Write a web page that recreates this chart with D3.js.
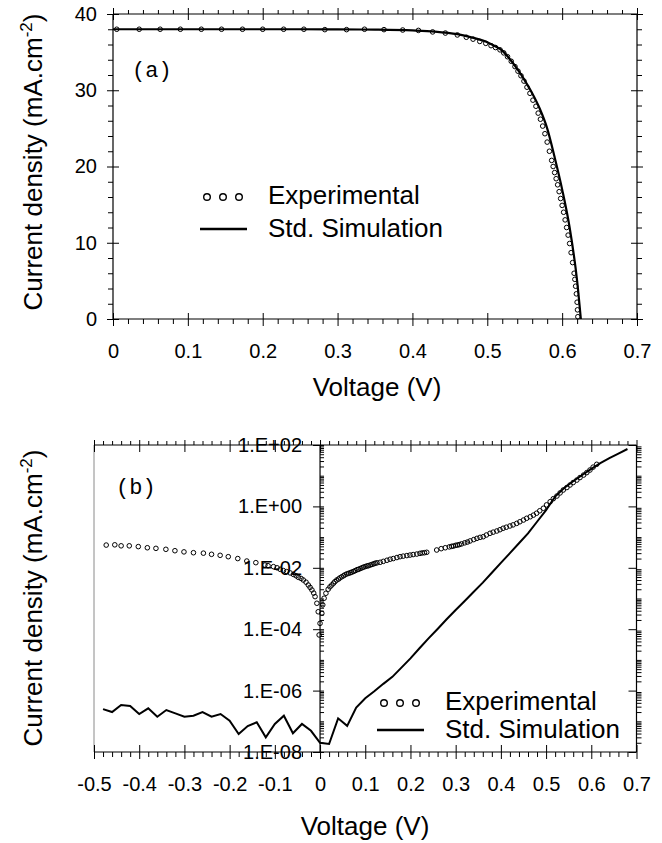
<!DOCTYPE html>
<html><head><meta charset="utf-8">
<script src="https://cdn.jsdelivr.net/npm/d3@7/dist/d3.min.js"></script>
<style>
body{margin:0;background:#fff}
text{fill:#000}
</style>
</head><body>
<svg id="chart" width="662" height="843"></svg>
<script>
// ---------- Panel (a): linear J-V ----------
const expA_V = [0.005,0.035,0.063,0.09,0.118,0.145,0.173,0.2,0.228,0.255,0.283,0.312,0.336,0.362,0.387,0.408,0.427,0.444,0.46,0.472,0.481,0.49,0.498,0.505,0.511,0.517,0.522,0.527,0.532,0.537,0.541,0.545,0.549,0.553,0.557,0.561,0.565,0.568,0.571,0.574,0.577,0.580,0.583,0.586,0.588,0.590,0.592,0.594,0.596,0.598,0.600,0.602,0.604,0.606,0.608,0.610,0.612,0.614,0.616,0.617,0.618,0.619,0.620,0.6205,0.621];
const expA_J = [38.0,38.0,38.0,38.0,38.0,38.0,38.0,38.0,38.0,38.0,37.95,37.95,38.0,37.95,37.9,37.85,37.65,37.5,37.25,36.95,36.7,36.4,36.15,35.85,35.6,35.3,34.9,34.4,33.8,33.1,32.5,31.9,31.2,30.4,29.6,28.7,27.9,27.0,26.2,25.3,24.3,23.2,22.0,20.8,20.0,19.2,18.4,17.6,16.7,15.8,14.9,14.0,13.0,12.0,11.0,9.9,8.7,7.4,6.0,5.2,4.3,3.3,2.2,1.2,0.3];
const simA_V = [0,0.05,0.1,0.15,0.2,0.25,0.3,0.35,0.4,0.43,0.46,0.48,0.5,0.51,0.52,0.53,0.54,0.55,0.56,0.57,0.58,0.59,0.6,0.61,0.62,0.625];
const simA_J = [38,38,38,38,38,38,37.98,37.95,37.85,37.7,37.35,36.9,36.3,35.8,35.2,34.1,32.8,31.3,29.6,27.6,25.0,21.2,17.0,12.0,5.0,0];
const xTicksA = [0,0.1,0.2,0.3,0.4,0.5,0.6,0.7];
const yTicksA = [0,10,20,30,40];

// ---------- Panel (b): log |J|-V ----------
const expB_V = [-0.473,-0.454,-0.440,-0.422,-0.402,-0.382,-0.363,-0.341,-0.321,-0.301,-0.280,-0.258,-0.240,-0.221,-0.203,-0.182,-0.162,-0.142,-0.122,-0.115,-0.103,-0.095,-0.088,-0.081,-0.074,-0.066,-0.059,-0.053,-0.048,-0.042,-0.037,-0.031,-0.026,-0.022,-0.018,-0.014,-0.011,-0.007,-0.004,-0.002,0.000,
 0.004,0.006,0.009,0.013,0.018,0.022,0.026,0.030,0.033,0.037,0.041,0.044,0.048,0.052,0.055,0.059,0.063,0.067,0.070,0.074,0.078,0.082,0.085,0.089,0.093,0.096,0.100,0.104,0.107,0.111,0.115,0.119,0.122,0.126,0.133,0.140,0.148,0.155,0.162,0.170,0.177,0.184,0.192,0.199,0.206,0.214,0.221,0.226,0.231,0.236,
 0.258,0.268,0.277,0.286,0.291,0.295,0.300,0.304,0.308,0.313,0.320,0.326,0.332,0.340,0.347,0.354,0.361,0.368,0.376,0.383,0.391,0.398,0.405,0.412,0.420,0.427,0.435,0.442,0.450,0.457,0.465,0.472,0.479,0.486,0.494,0.501,0.509,0.516,0.524,0.531,0.538,0.546,0.553,0.560,0.568,0.575,0.583,0.590,0.597,0.604,0.612];
const expB_J = [5.5e-2,5.6e-2,5.2e-2,5.2e-2,4.9e-2,4.5e-2,4.3e-2,4.0e-2,3.6e-2,3.3e-2,3.1e-2,3.0e-2,2.75e-2,2.55e-2,2.3e-2,2.0e-2,1.66e-2,1.47e-2,1.23e-2,1.17e-2,1.09e-2,1.0e-2,8.9e-3,8.1e-3,7.5e-3,6.8e-3,6.1e-3,5.5e-3,4.9e-3,4.5e-3,4.0e-3,3.4e-3,2.75e-3,2.3e-3,1.9e-3,1.5e-3,1.15e-3,7.0e-4,3.7e-4,6.5e-5,1.55e-4,
 3.3e-4,6.2e-4,1.02e-3,1.48e-3,2.0e-3,2.4e-3,2.75e-3,3.16e-3,3.55e-3,4.0e-3,4.3e-3,4.7e-3,5.1e-3,5.5e-3,5.9e-3,6.3e-3,6.6e-3,6.9e-3,7.2e-3,7.6e-3,8.1e-3,8.7e-3,8.9e-3,9.5e-3,1.0e-2,1.05e-2,1.1e-2,1.15e-2,1.17e-2,1.23e-2,1.29e-2,1.35e-2,1.41e-2,1.45e-2,1.51e-2,1.62e-2,1.76e-2,1.9e-2,2.0e-2,2.16e-2,2.3e-2,2.4e-2,2.5e-2,2.6e-2,2.7e-2,2.8e-2,2.95e-2,3.05e-2,3.1e-2,3.2e-2,
 3.8e-2,4.2e-2,4.5e-2,4.8e-2,5.0e-2,5.1e-2,5.4e-2,5.5e-2,5.7e-2,6.0e-2,6.5e-2,6.9e-2,7.5e-2,8.3e-2,9.1e-2,9.8e-2,1.03e-1,1.17e-1,1.33e-1,1.45e-1,1.58e-1,1.74e-1,1.94e-1,2.1e-1,2.3e-1,2.5e-1,2.8e-1,3.16e-1,3.6e-1,4.1e-1,4.6e-1,5.2e-1,6.0e-1,7.2e-1,8.7e-1,1.12,1.42,1.78,2.18,2.75,3.42,4.12,4.98,6.0,7.2,8.7,10.5,12.6,15.3,19.0,23.5];
const simB_V = [-0.48,-0.46,-0.44,-0.42,-0.40,-0.38,-0.36,-0.34,-0.32,-0.30,-0.28,-0.26,-0.24,-0.22,-0.20,-0.18,-0.16,-0.14,-0.12,-0.10,-0.08,-0.06,-0.04,-0.02,0.00,0.02,0.04,0.06,0.08,0.10,0.12,0.14,0.16,0.18,0.20,0.22,0.24,0.26,0.28,0.30,0.32,0.34,0.36,0.38,0.40,0.42,0.44,0.46,0.48,0.50,0.52,0.54,0.56,0.58,0.60,0.62,0.64,0.66,0.68];
const simB_J = [2.5e-7,2.0e-7,3.4e-7,3.15e-7,1.73e-7,2.65e-7,1.41e-7,2.33e-7,1.82e-7,1.41e-7,1.52e-7,2.0e-7,1.41e-7,1.73e-7,1.05e-7,3.85e-8,7.0e-8,9.3e-8,3.0e-8,8.2e-8,1.52e-7,4.1e-8,8.2e-8,4.9e-8,2.0e-8,1.82e-8,1.25e-7,7.1e-8,2.8e-7,5.6e-7,9.5e-7,1.66e-6,2.8e-6,5.6e-6,1.12e-5,2.4e-5,5.0e-5,1.02e-4,2.1e-4,4.2e-4,8.3e-4,1.66e-3,3.3e-3,6.9e-3,1.45e-2,3.0e-2,6.3e-2,1.32e-1,3.16e-1,7.6e-1,2.09,3.98,6.6,10.5,16.6,25.7,37.2,52.5,74.1];
const xTicksB = [-0.5,-0.4,-0.3,-0.2,-0.1,0,0.1,0.2,0.3,0.4,0.5,0.6,0.7];
const yTicksB = [1e2,1e0,1e-2,1e-4,1e-6,1e-8];
const yTickLabelsB = ["1.E+02","1.E+00","1.E-02","1.E-04","1.E-06","1.E-08"];

const legendLabels = ["Experimental","Std. Simulation"];
const panelLabels = ["(a)","(b)"];
const xTitle = "Voltage (V)";

// ---------- drawing ----------
const svg = d3.select("#chart");
const FONT = "'Liberation Sans', Arial, Helvetica, sans-serif";
const MONO = "'Liberation Mono', 'Courier New', Courier, monospace";

function addAxis(gen, tx, ty, labels) {
  const g = svg.append("g").attr("transform", `translate(${tx},${ty})`).call(gen);
  g.select(".domain").remove();
  g.selectAll("line").attr("stroke", "#000").attr("stroke-width", 1);
  if (labels) {
    g.selectAll("text").style("font-size", "20px").style("font-family", FONT).attr("fill", "#000");
  } else {
    g.selectAll("text").remove();
  }
  return g;
}
function frame(x0, x1, y0, y1, leftColor) {
  const f = svg.append("g").attr("stroke-width", 1.2).attr("fill", "none");
  f.append("line").attr("x1", x0).attr("x2", x1).attr("y1", y0).attr("y2", y0).attr("stroke", "#000");
  f.append("line").attr("x1", x0).attr("x2", x1).attr("y1", y1).attr("y2", y1).attr("stroke", "#000");
  f.append("line").attr("x1", x1).attr("x2", x1).attr("y1", y0).attr("y2", y1).attr("stroke", "#000");
  f.append("line").attr("x1", x0).attr("x2", x0).attr("y1", y0).attr("y2", y1)
    .attr("stroke", leftColor || "#000").attr("stroke-width", leftColor ? 1 : 1.2);
}
function txt(x, y, s, size, family, anchor) {
  return svg.append("text").attr("x", x).attr("y", y).attr("text-anchor", anchor || "start")
    .style("font-size", size + "px").style("font-family", family).text(s);
}
function yTitle(cy) {
  const t = svg.append("text").attr("transform", `translate(42,${cy}) rotate(-90)`)
    .attr("text-anchor", "middle").style("font-size", "26px").style("font-family", FONT);
  t.append("tspan").text("Current density (mA.cm");
  t.append("tspan").attr("dy", -10).style("font-size", "17px").text("-2");
  t.append("tspan").attr("dy", 10).text(")");
}
function legend(x0, yExp, yLine) {
  const cxs = [x0 + 7, x0 + 23, x0 + 39];
  svg.append("g").selectAll("circle").data(cxs).join("circle")
    .attr("cx", d => d).attr("cy", yExp - 7).attr("r", 3.3)
    .attr("fill", "none").attr("stroke", "#000").attr("stroke-width", 1.4);
  svg.append("line").attr("x1", x0).attr("x2", x0 + 47).attr("y1", yLine - 8).attr("y2", yLine - 8)
    .attr("stroke", "#000").attr("stroke-width", 2.6);
  txt(x0 + 68, yExp, legendLabels[0], 26, FONT);
  txt(x0 + 68, yLine, legendLabels[1], 26, FONT);
}

// ===== Panel (a) =====
const xA = d3.scaleLinear().domain([0, 0.7]).range([113, 637]);
const yA = d3.scaleLinear().domain([0, 40]).range([319, 14]);
const xMinorA = d3.range(0, 0.7001, 0.02).filter(v => Math.abs(v * 10 - Math.round(v * 10)) > 1e-6);
const yMinorA = d3.range(0, 40.001, 2).filter(v => v % 10 !== 0);

frame(113, 637, 14, 319);
addAxis(d3.axisBottom(xA).tickValues(xTicksA).tickSize(7).tickSizeOuter(0).tickPadding(18)
  .tickFormat(d => String(+d.toFixed(1))), 0, 319, true);
addAxis(d3.axisBottom(xA).tickValues(xTicksA).tickSize(-6).tickSizeOuter(0), 0, 319, false);
addAxis(d3.axisBottom(xA).tickValues(xMinorA).tickSize(5).tickSizeOuter(0), 0, 319, false);
addAxis(d3.axisTop(xA).tickValues(xTicksA).tickSize(6).tickSizeOuter(0), 0, 14, false);
addAxis(d3.axisTop(xA).tickValues(xTicksA).tickSize(-6).tickSizeOuter(0), 0, 14, false);
addAxis(d3.axisTop(xA).tickValues(xMinorA).tickSize(4).tickSizeOuter(0), 0, 14, false);
addAxis(d3.axisLeft(yA).tickValues(yTicksA).tickSize(6).tickSizeOuter(0).tickPadding(10), 113, 0, true);
addAxis(d3.axisLeft(yA).tickValues(yTicksA).tickSize(-6).tickSizeOuter(0), 113, 0, false);
addAxis(d3.axisLeft(yA).tickValues(yMinorA).tickSize(5).tickSizeOuter(0), 113, 0, false);
addAxis(d3.axisRight(yA).tickValues(yTicksA).tickSize(6).tickSizeOuter(0), 637, 0, false);
addAxis(d3.axisRight(yA).tickValues(yTicksA).tickSize(-6).tickSizeOuter(0), 637, 0, false);
addAxis(d3.axisRight(yA).tickValues(yMinorA).tickSize(5).tickSizeOuter(0), 637, 0, false);

svg.append("path").datum(simA_V.map((v, i) => [v, simA_J[i]]))
  .attr("d", d3.line().x(d => xA(d[0])).y(d => yA(d[1])).curve(d3.curveMonotoneX))
  .attr("fill", "none").attr("stroke", "#000").attr("stroke-width", 2.2);
svg.append("g").selectAll("circle").data(expA_V.map((v, i) => [v, expA_J[i]])).join("circle")
  .attr("cx", d => xA(d[0])).attr("cy", d => yA(d[1])).attr("r", 2.3)
  .attr("fill", "none").attr("stroke", "#000").attr("stroke-width", 1);

txt(132, 77, panelLabels[0], 22, MONO);
legend(200, 204, 237);
yTitle(162);
txt(377, 396, xTitle, 26, FONT, "middle");

// ===== Panel (b) =====
const xB = d3.scaleLinear().domain([-0.5, 0.7]).range([94, 636.5]);
const yB = d3.scaleLog().domain([1e-8, 1e2]).range([752, 445]);
const xMinorB = d3.range(-0.5, 0.7001, 0.02).filter(v => Math.abs(v * 10 - Math.round(v * 10)) > 1e-6);
const yMinorB = [];
for (let e = -8; e <= 1; e++) {
  for (let m = 1; m <= 9; m++) {
    if (m === 1 && e % 2 === 0) continue;
    yMinorB.push(+(m + "e" + e));
  }
}
frame(94, 636.5, 445, 752, "#8a8a8a");
const x0 = xB(0);
addAxis(d3.axisBottom(xB).tickValues(xTicksB).tickSize(7).tickSizeOuter(0).tickPadding(18)
  .tickFormat(d => String(+d.toFixed(1))), 0, 752, true);
addAxis(d3.axisBottom(xB).tickValues(xTicksB).tickSize(-7).tickSizeOuter(0), 0, 752, false);
addAxis(d3.axisBottom(xB).tickValues(xMinorB).tickSize(5).tickSizeOuter(0), 0, 752, false);
addAxis(d3.axisTop(xB).tickValues(xTicksB).tickSize(5).tickSizeOuter(0), 0, 445, false);
addAxis(d3.axisTop(xB).tickValues(xTicksB).tickSize(-7).tickSizeOuter(0), 0, 445, false);
addAxis(d3.axisTop(xB).tickValues(xMinorB).tickSize(4).tickSizeOuter(0), 0, 445, false);
svg.append("line").attr("x1", x0).attr("x2", x0).attr("y1", 445).attr("y2", 752)
  .attr("stroke", "#000").attr("stroke-width", 1.2);
addAxis(d3.axisLeft(yB).tickValues(yTicksB).tickSize(7).tickSizeOuter(0).tickPadding(11)
  .tickFormat((d, i) => yTickLabelsB[i]), x0, 0, true);
addAxis(d3.axisRight(yB).tickValues(yTicksB).tickSize(4).tickSizeOuter(0), x0, 0, false);
addAxis(d3.axisRight(yB).tickValues(yMinorB).tickSize(4).tickSizeOuter(0), x0, 0, false);
addAxis(d3.axisLeft(yB).tickValues(yTicksB).tickSize(8).tickSizeOuter(0), 636.5, 0, false);
addAxis(d3.axisRight(yB).tickValues(yMinorB).tickSize(5).tickSizeOuter(0), 636.5, 0, false);

svg.append("path").datum(simB_V.map((v, i) => [v, simB_J[i]]))
  .attr("d", d3.line().x(d => xB(d[0])).y(d => yB(d[1])))
  .attr("fill", "none").attr("stroke", "#000").attr("stroke-width", 2);
svg.append("g").selectAll("circle").data(expB_V.map((v, i) => [v, expB_J[i]])).join("circle")
  .attr("cx", d => xB(d[0])).attr("cy", d => yB(d[1])).attr("r", 2.3)
  .attr("fill", "none").attr("stroke", "#000").attr("stroke-width", 1);

txt(116, 494, panelLabels[1], 22, MONO);
legend(377, 710, 738);
yTitle(598);
txt(365, 835, xTitle, 26, FONT, "middle");
</script>
</body></html>
